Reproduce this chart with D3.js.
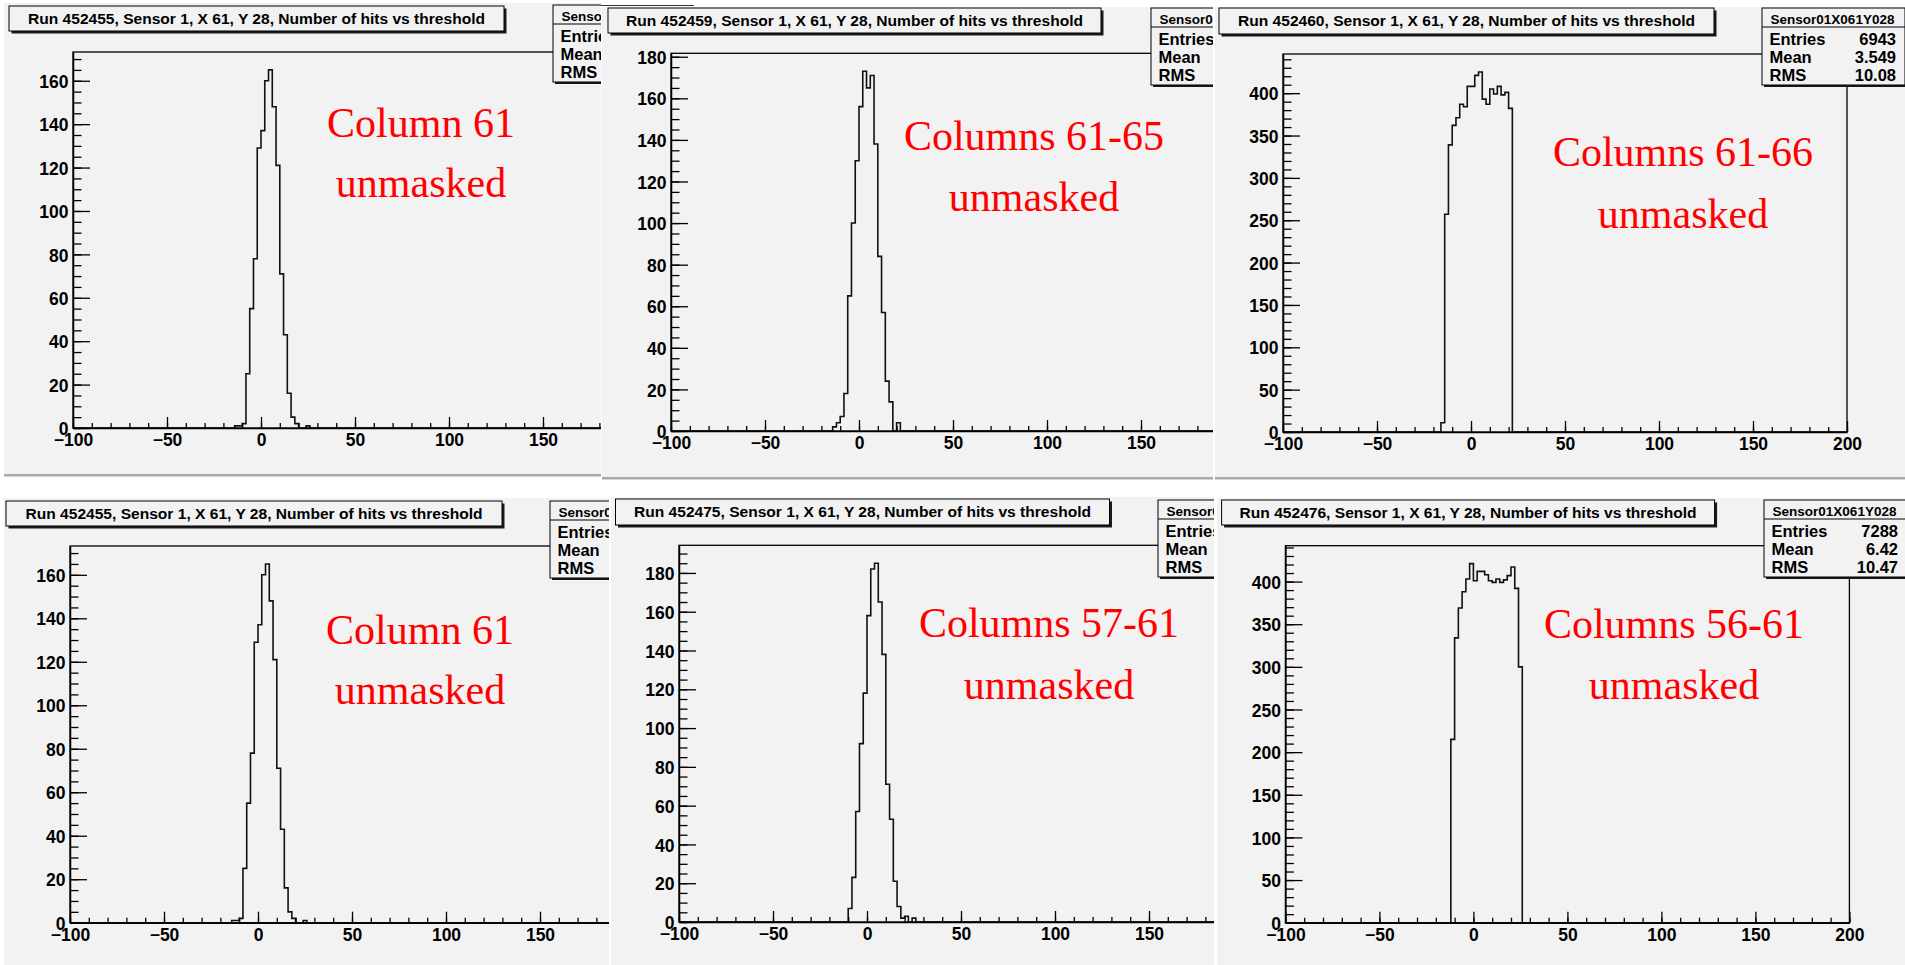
<!DOCTYPE html>
<html>
<head>
<meta charset="utf-8">
<title>Number of hits vs threshold</title>
<script src="https://cdn.jsdelivr.net/npm/d3@7"></script>
<style>
  body { margin: 0; background: #ffffff; }
  svg { display: block; }
  .note { font-family: "Liberation Serif", "Times New Roman", Times, Tinos, "DejaVu Serif", "Noto Serif", serif; }
</style>
</head>
<body>
<div id="chart"></div>
<script>
// Threshold binning shared by every run
const xMin = -100;
const xMax = 200;
const binWidth = 2;
const xTickValues = [-100, -50, 0, 50, 100, 150, 200];

// Bin contents (first non-empty bin edge + counts)
const run452455Start = -14;
const run452455Counts = [1, 1, 2, 25, 55, 78, 129, 137, 160, 165, 148, 121, 71, 43, 16, 5, 2, 0, 0, 1];

const run452459Start = -14;
const run452459Counts = [2, 4, 7, 18, 65, 100, 130, 156, 173, 165, 171, 138, 84, 57, 24, 14, 0, 4];

const run452460Start = -16;
const run452460Counts = [11, 257, 339, 362, 371, 387, 384, 408, 408, 421, 425, 393, 387, 405, 399, 408, 398, 401, 382];

const run452475Start = -10;
const run452475Counts = [7, 23, 57, 92, 118, 158, 182, 185, 165, 138, 71, 53, 21, 8, 2, 3, 0, 2];

const run452476Start = -12;
const run452476Counts = [215, 334, 369, 388, 403, 421, 401, 412, 412, 408, 401, 399, 403, 399, 402, 407, 417, 392, 300];

// Texts
const runNumbers = ["452455", "452459", "452460", "452455", "452475", "452476"];
const unmaskedLabels = ["Column 61", "Columns 61-65", "Columns 61-66", "Column 61", "Columns 57-61", "Columns 56-61"];
const statHeader = "Sensor01X061Y028";
const statNames = ["Entries", "Mean", "RMS"];
const statEntries = [null, null, "6943", null, null, "7288"];
const statMeans = [null, null, "3.549", null, null, "6.42"];
const statRms = [null, null, "10.08", null, null, "10.47"];

// Axis tick spacing per panel
const yMajorSteps = [20, 20, 50, 20, 20, 50];
const yMinorSteps = [5, 5, 10, 5, 5, 10];

const runs = [
  { start: run452455Start, counts: run452455Counts },
  { start: run452459Start, counts: run452459Counts },
  { start: run452460Start, counts: run452460Counts },
  { start: run452455Start, counts: run452455Counts },
  { start: run452475Start, counts: run452475Counts },
  { start: run452476Start, counts: run452476Counts }
];

// Layout of the six screenshot panels (pixels)
const panels = [
  { clip: [4, 3, 597, 471], edge: true, title: [9, 6, 495, 25], stat: [553, 5], frame: [73, 52, 428], label: [421, 137, 197] },
  { clip: [602, 7, 611, 470], edge: true, title: [608, 8, 493, 25], stat: [1151, 8], frame: [671, 53.3, 431], label: [1034, 150, 211] },
  { clip: [1215, 7, 690, 470], edge: true, title: [1219, 8, 495, 26], stat: [1762, 8], frame: [1283, 54, 432], label: [1683, 166, 228] },
  { clip: [4, 498, 605, 467], edge: false, title: [6, 501, 496, 25], stat: [550, 501], frame: [70, 546, 922.7], label: [420, 644, 704] },
  { clip: [611, 497, 603, 468], edge: false, title: [615.5, 499, 494, 26], stat: [1158, 500], frame: [679, 545.3, 922], label: [1049, 637, 699] },
  { clip: [1217, 498, 688, 467], edge: false, title: [1221.6, 500, 493, 25], stat: [1764, 500], frame: [1285.4, 545.7, 922.7], label: [1674, 638, 699] }
];

const frameWidth = 564;
const panelGrey = "#f2f2f2";
const rootFont = "'Liberation Sans', Arial, Helvetica, sans-serif";

const svg = d3.select("#chart")
  .append("svg")
  .attr("width", 1905)
  .attr("height", 965);

const defs = svg.append("defs");

panels.forEach((p, i) => {
  const run = runs[i];

  // Full set of bins from xMin to xMax, empty outside the read values
  const nBins = (xMax - xMin) / binWidth;
  const bins = d3.range(nBins).map(k => {
    const lo = xMin + k * binWidth;
    const idx = (lo - run.start) / binWidth;
    const c = (idx >= 0 && idx < run.counts.length) ? run.counts[idx] : 0;
    return { x: lo, y: c };
  });
  const stepPoints = bins.concat([{ x: xMax, y: bins[bins.length - 1].y }]);

  const x = d3.scaleLinear()
    .domain([xMin, xMax])
    .range([p.frame[0], p.frame[0] + frameWidth]);

  const y = d3.scaleLinear()
    .domain([0, d3.max(run.counts) * 1.05])
    .range([p.frame[2], p.frame[1]]);

  // Clip each panel like the cropped screenshots
  const clipId = "panel-clip-" + i;
  defs.append("clipPath")
    .attr("id", clipId)
    .append("rect")
    .attr("x", p.clip[0])
    .attr("y", p.clip[1])
    .attr("width", p.clip[2])
    .attr("height", p.clip[3] + (p.edge ? 3 : 0));

  const g = svg.append("g").attr("clip-path", `url(#${clipId})`);

  g.append("rect")
    .attr("x", p.clip[0])
    .attr("y", p.clip[1])
    .attr("width", p.clip[2])
    .attr("height", p.clip[3])
    .attr("fill", panelGrey);

  if (p.edge) {
    g.append("rect")
      .attr("x", p.clip[0])
      .attr("y", p.clip[1] + p.clip[3])
      .attr("width", p.clip[2])
      .attr("height", 2.5)
      .attr("fill", "#a9a9a9");
  }

  // Frame
  g.append("rect")
    .attr("x", p.frame[0])
    .attr("y", p.frame[1])
    .attr("width", frameWidth)
    .attr("height", p.frame[2] - p.frame[1])
    .attr("fill", "none")
    .attr("stroke", "#000")
    .attr("stroke-width", 1.3);

  // Histogram outline
  const step = d3.line()
    .x(d => x(d.x))
    .y(d => y(d.y))
    .curve(d3.curveStepAfter);

  g.append("path")
    .datum(stepPoints)
    .attr("fill", "none")
    .attr("stroke", "#111")
    .attr("stroke-width", 1.6)
    .attr("d", step);

  // Y axis: major and minor ticks pointing inward
  const yTop = y.domain()[1];
  g.append("g")
    .attr("transform", `translate(${p.frame[0]},0)`)
    .call(d3.axisLeft(y)
      .tickValues(d3.range(0, yTop, yMinorSteps[i]))
      .tickSizeInner(-8.5)
      .tickSizeOuter(0)
      .tickFormat(""))
    .call(a => a.select(".domain").remove())
    .selectAll("line").attr("stroke", "#000").attr("stroke-width", 1.3);

  g.append("g")
    .attr("transform", `translate(${p.frame[0]},0)`)
    .call(d3.axisLeft(y)
      .tickValues(d3.range(0, yTop, yMajorSteps[i]))
      .tickSizeInner(-17)
      .tickSizeOuter(0)
      .tickPadding(4.5)
      .tickFormat(d3.format("d")))
    .call(a => a.select(".domain").attr("stroke", "#000").attr("stroke-width", 1.5))
    .call(a => a.selectAll("line").attr("stroke", "#000").attr("stroke-width", 1.3))
    .call(a => a.selectAll("text")
      .attr("dy", "0.38em")
      .attr("fill", "#000")
      .style("font-family", rootFont)
      .style("font-weight", "bold")
      .style("font-size", "17.5px"));

  // X axis
  g.append("g")
    .attr("transform", `translate(0,${p.frame[2]})`)
    .call(d3.axisBottom(x)
      .tickValues(d3.range(xMin, xMax + 1, 10))
      .tickSizeInner(-5)
      .tickSizeOuter(0)
      .tickFormat(""))
    .call(a => a.select(".domain").remove())
    .selectAll("line").attr("stroke", "#000").attr("stroke-width", 1.3);

  g.append("g")
    .attr("transform", `translate(0,${p.frame[2]})`)
    .call(d3.axisBottom(x)
      .tickValues(xTickValues)
      .tickSizeInner(-11)
      .tickSizeOuter(0)
      .tickPadding(6)
      .tickFormat(d3.format("d")))
    .call(a => a.select(".domain").attr("stroke", "#000").attr("stroke-width", 1.5))
    .call(a => a.selectAll("line").attr("stroke", "#000").attr("stroke-width", 1.3))
    .call(a => a.selectAll("text")
      .attr("fill", "#000")
      .style("font-family", rootFont)
      .style("font-weight", "bold")
      .style("font-size", "17.5px"));

  // Title box with shadow
  const t = p.title;
  g.append("rect")
    .attr("x", t[0] + 2.5)
    .attr("y", t[1] + 2.5)
    .attr("width", t[2])
    .attr("height", t[3])
    .attr("fill", "#1a1a1a");
  g.append("rect")
    .attr("x", t[0])
    .attr("y", t[1])
    .attr("width", t[2])
    .attr("height", t[3])
    .attr("fill", panelGrey)
    .attr("stroke", "#000")
    .attr("stroke-width", 1);
  g.append("text")
    .attr("x", t[0] + t[2] / 2)
    .attr("y", t[1] + t[3] / 2 + 5)
    .attr("text-anchor", "middle")
    .attr("textLength", 457)
    .attr("lengthAdjust", "spacingAndGlyphs")
    .style("font-family", rootFont)
    .style("font-weight", "bold")
    .style("font-size", "14.5px")
    .text(`Run ${runNumbers[i]}, Sensor 1, X 61, Y 28, Number of hits vs threshold`);

  // Statistics box
  const s = p.stat;
  const sw = 143, sh = 77;
  g.append("rect")
    .attr("x", s[0] + 2)
    .attr("y", s[1] + 2)
    .attr("width", sw)
    .attr("height", sh)
    .attr("fill", "#1a1a1a");
  g.append("rect")
    .attr("x", s[0])
    .attr("y", s[1])
    .attr("width", sw)
    .attr("height", sh)
    .attr("fill", panelGrey)
    .attr("stroke", "#000")
    .attr("stroke-width", 1);
  g.append("line")
    .attr("x1", s[0])
    .attr("x2", s[0] + sw)
    .attr("y1", s[1] + 19)
    .attr("y2", s[1] + 19)
    .attr("stroke", "#000")
    .attr("stroke-width", 1);
  g.append("text")
    .attr("x", s[0] + sw / 2 - 1)
    .attr("y", s[1] + 15.5)
    .attr("text-anchor", "middle")
    .style("font-family", rootFont)
    .style("font-weight", "bold")
    .style("font-size", "13.5px")
    .text(statHeader);

  const statValues = [statEntries[i], statMeans[i], statRms[i]];
  statNames.forEach((name, k) => {
    const by = s[1] + [36.5, 55, 73][k];
    g.append("text")
      .attr("x", s[0] + 7.5)
      .attr("y", by)
      .style("font-family", rootFont)
      .style("font-weight", "bold")
      .style("font-size", "16.5px")
      .text(name);
    if (statValues[k] !== null) {
      g.append("text")
        .attr("x", s[0] + 134)
        .attr("y", by)
        .attr("text-anchor", "end")
        .style("font-family", rootFont)
        .style("font-weight", "bold")
        .style("font-size", "16.5px")
        .text(statValues[k]);
    }
  });

  // Red annotation, two lines
  [unmaskedLabels[i], "unmasked"].forEach((line, k) => {
    g.append("text")
      .attr("class", "note")
      .attr("x", p.label[0])
      .attr("y", p.label[1 + k])
      .attr("text-anchor", "middle")
      .attr("fill", "#ff0000")
      .attr("font-size", 42)
      .text(line);
  });
});

// Leftover edge of the first screenshot above the second panel
svg.append("line")
  .attr("x1", 601)
  .attr("x2", 694)
  .attr("y1", 5.5)
  .attr("y2", 5.5)
  .attr("stroke", "#333")
  .attr("stroke-width", 1);
</script>
</body>
</html>
